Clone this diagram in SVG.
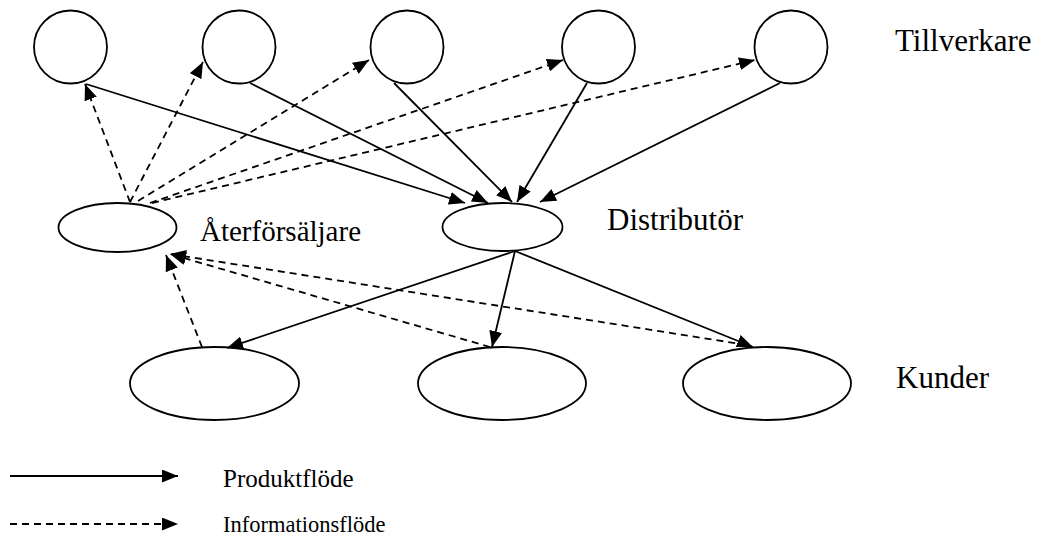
<svg xmlns="http://www.w3.org/2000/svg" width="1040" height="540" viewBox="0 0 1040 540">
  <style>
    .node { fill: #ffffff; stroke: #000000; stroke-width: 1.8; }
    .prod { fill: none; stroke: #000000; stroke-width: 1.8; marker-end: url(#arrow); }
    .info { fill: none; stroke: #000000; stroke-width: 1.8; stroke-dasharray: 7 5; marker-end: url(#arrow); }
  </style>
  <defs>
    <marker id="arrow" viewBox="0 0 16 13" refX="16" refY="6.5" markerWidth="16" markerHeight="13" markerUnits="userSpaceOnUse" orient="auto">
      <path d="M0,0 L16,6.5 L0,13 z" fill="#000000"/>
    </marker>
  </defs>
  <rect width="1040" height="540" fill="#ffffff"/>

  <g id="tillverkare-1"><circle class="node" cx="70.5" cy="47" r="36.5"/></g>
  <g id="tillverkare-2"><circle class="node" cx="239" cy="47" r="36.5"/></g>
  <g id="tillverkare-3"><circle class="node" cx="407" cy="47" r="36.5"/></g>
  <g id="tillverkare-4"><circle class="node" cx="598.5" cy="47" r="36.5"/></g>
  <g id="tillverkare-5"><circle class="node" cx="791" cy="47" r="36.5"/></g>

  <g id="aterforsaljare"><ellipse class="node" cx="117.5" cy="227.5" rx="59" ry="24.5"/></g>
  <g id="distributor"><ellipse class="node" cx="502.5" cy="227" rx="60" ry="24"/></g>

  <g id="kund-1"><ellipse class="node" cx="214.5" cy="383.5" rx="84.5" ry="36.5"/></g>
  <g id="kund-2"><ellipse class="node" cx="502" cy="383.5" rx="84" ry="36.5"/></g>
  <g id="kund-3"><ellipse class="node" cx="767" cy="383.5" rx="84" ry="36.5"/></g>

  <g id="connectors">
    <line class="prod" x1="86" y1="84" x2="465" y2="203"/>
    <line class="prod" x1="250" y1="83" x2="488" y2="203"/>
    <line class="prod" x1="394" y1="83" x2="512" y2="202"/>
    <line class="prod" x1="587" y1="83" x2="517" y2="202"/>
    <line class="prod" x1="780" y1="83" x2="540" y2="202"/>
    <line class="prod" x1="515" y1="251" x2="227" y2="348"/>
    <line class="prod" x1="515" y1="251" x2="492" y2="347"/>
    <line class="prod" x1="515" y1="251" x2="753" y2="347"/>
    <line class="info" x1="130" y1="202" x2="85" y2="84"/>
    <line class="info" x1="130" y1="202" x2="203" y2="62"/>
    <line class="info" x1="138" y1="201" x2="369" y2="60"/>
    <line class="info" x1="150" y1="203" x2="563" y2="60"/>
    <line class="info" x1="152" y1="203" x2="755" y2="60"/>
    <line class="info" x1="202" y1="347" x2="166" y2="255"/>
    <line class="info" x1="490" y1="347" x2="170" y2="254"/>
    <line class="info" x1="747" y1="345" x2="170" y2="254"/>
    <line class="prod" x1="10" y1="476" x2="178" y2="476"/>
    <line class="info" x1="10" y1="524" x2="178" y2="524"/>
  </g>

  <g id="labels" font-family="'Liberation Serif', 'DejaVu Serif', serif" fill="#000000">
    <text x="895" y="51" font-size="31">Tillverkare</text>
    <text x="607" y="230" font-size="31">Distributör</text>
    <text x="200" y="241" font-size="29">Återförsäljare</text>
    <text x="896" y="388" font-size="31">Kunder</text>
    <text x="223" y="487" font-size="25">Produktflöde</text>
    <text x="223" y="532" font-size="22.5">Informationsflöde</text>
  </g>
</svg>
